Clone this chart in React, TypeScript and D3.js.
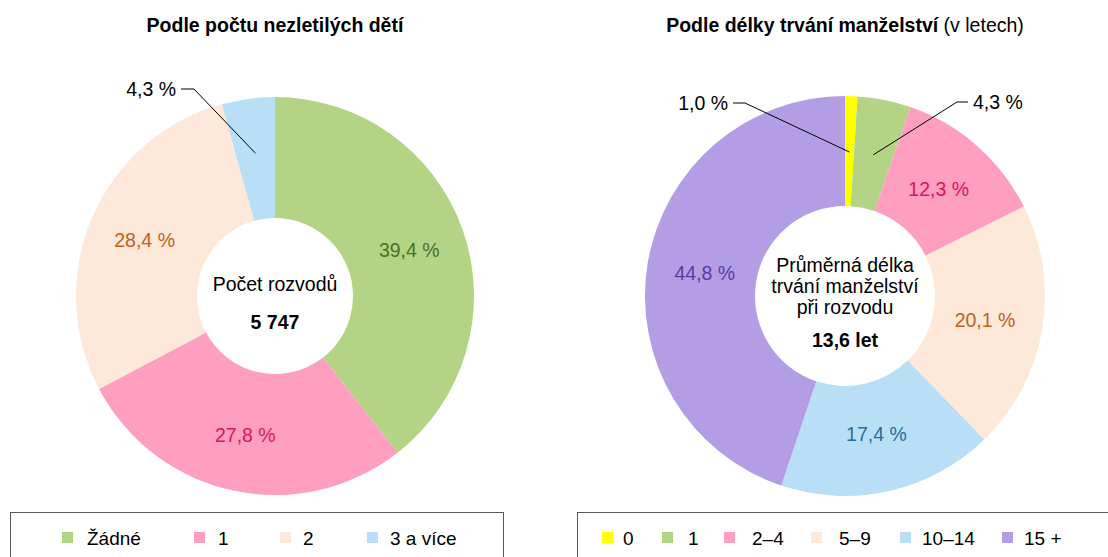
import React from "react";
import * as d3 from "d3";

const width = 1108;
const height = 557;
const font = "'Liberation Sans', Arial, sans-serif";
const fs = 19.5;

// left chart: by number of minor children
const childCategories = ["Žádné", "1", "2", "3 a více"];
const childValues = [39.4, 27.8, 28.4, 4.3];
const childColors = ["#b3d385", "#ff9fc0", "#fde8da", "#b8dff5"];
const childLabelColors = ["#4e6e26", "#e0125a", "#c0601a", "#2a6c9c"];

// right chart: by marriage duration (years)
const durationCategories = ["0", "1", "2–4", "5–9", "10–14", "15 +"];
const durationValues = [1.0, 4.3, 12.3, 20.1, 17.4, 44.8];
const durationColors = ["#ffff00", "#b3d385", "#ff9fc0", "#fde8da", "#b8dff5", "#b39ee5"];
const durationLabelColors = ["#000", "#000", "#e0125a", "#c0601a", "#2a6c9c", "#5a3c9c"];

const fmt = (v: number) => v.toFixed(1).replace(".", ",") + " %";

type Callout = { index: number; elbow: [number, number]; end: [number, number]; anchor: "start" | "end" };

const Donut = ({
  cx, cy, outer, inner, values, colors, labelColors, callouts, center,
}: {
  cx: number; cy: number; outer: number; inner: number;
  values: number[]; colors: string[]; labelColors: string[];
  callouts: Callout[]; center: React.ReactNode;
}) => {
  const pie = d3.pie<number>().sort(null).value((d) => d);
  const arcs = pie(values);
  const arc = d3.arc<d3.PieArcDatum<number>>().innerRadius(inner).outerRadius(outer);
  const labelArc = d3.arc<d3.PieArcDatum<number>>().innerRadius(142).outerRadius(142);
  const pointArc = d3.arc<d3.PieArcDatum<number>>().innerRadius(144).outerRadius(144);
  const calloutIdx = callouts.map((c) => c.index);
  return (
    <g transform={`translate(${cx},${cy})`}>
      {arcs.map((a, i) => (
        <path key={i} d={arc(a) || ""} fill={colors[i]} />
      ))}
      {arcs.map((a, i) => {
        if (calloutIdx.includes(i)) return null;
        const [x, y] = labelArc.centroid(a);
        return (
          <text key={i} x={x} y={y} dy="0.35em" textAnchor="middle" fontSize={fs} fill={labelColors[i]}>
            {fmt(values[i])}
          </text>
        );
      })}
      {callouts.map((c) => {
        const [px, py] = pointArc.centroid(arcs[c.index]);
        const ex = c.elbow[0] - cx, ey = c.elbow[1] - cy;
        const tx = c.end[0] - cx, ty = c.end[1] - cy;
        return (
          <g key={c.index}>
            <polyline points={`${px},${py} ${ex},${ey} ${tx},${ty}`} fill="none" stroke="#000" strokeWidth={1} />
            <text x={c.anchor === "end" ? tx - 5 : tx + 5} y={ty} dy="0.35em" textAnchor={c.anchor} fontSize={fs} fill="#000">
              {fmt(values[c.index])}
            </text>
          </g>
        );
      })}
      {center}
    </g>
  );
};

const Legend = ({ x, y, w, categories, colors, squareX, textX }: {
  x: number; y: number; w: number; categories: string[]; colors: string[]; squareX: number[]; textX: number[];
}) => (
  <g>
    <rect x={x + 0.5} y={y + 0.5} width={w} height={60} fill="#fff" stroke="#595959" strokeWidth={1} />
    {categories.map((c, i) => (
      <g key={c}>
        <rect x={squareX[i]} y={y + 20} width={11} height={11} fill={colors[i]} />
        <text x={textX[i]} y={y + 32.5} fontSize={19} fill="#000">{c}</text>
      </g>
    ))}
  </g>
);

export default function App() {
  return (
    <svg width={width} height={height} style={{ position: "absolute", left: 0, top: 0, fontFamily: font }}>
      <rect width={width} height={height} fill="#fff" />
      <text x={275} y={32} textAnchor="middle" fontSize={fs} fontWeight="bold">Podle počtu nezletilých dětí</text>
      <text x={845} y={32} textAnchor="middle" fontSize={fs}>
        <tspan fontWeight="bold">Podle délky trvání manželství</tspan>
        <tspan> (v letech)</tspan>
      </text>

      <Donut
        cx={275} cy={296} outer={199} inner={78}
        values={childValues} colors={childColors} labelColors={childLabelColors}
        callouts={[{ index: 3, elbow: [194, 89], end: [181, 89], anchor: "end" }]}
        center={
          <g fontSize={fs}>
            <text x={0} y={-12} dy="0.35em" textAnchor="middle">Počet rozvodů</text>
            <text x={0} y={26} dy="0.35em" textAnchor="middle" fontWeight="bold">5 747</text>
          </g>
        }
      />

      <Donut
        cx={845} cy={296} outer={200} inner={90}
        values={durationValues} colors={durationColors} labelColors={durationLabelColors}
        callouts={[
          { index: 0, elbow: [745, 103], end: [733, 103], anchor: "end" },
          { index: 1, elbow: [957, 102], end: [968, 102], anchor: "start" },
        ]}
        center={
          <g fontSize={fs}>
            <text x={0} y={-31} dy="0.35em" textAnchor="middle">Průměrná délka</text>
            <text x={0} y={-10} dy="0.35em" textAnchor="middle">trvání manželství</text>
            <text x={0} y={11} dy="0.35em" textAnchor="middle">při rozvodu</text>
            <text x={0} y={44} dy="0.35em" textAnchor="middle" fontWeight="bold">13,6 let</text>
          </g>
        }
      />

      <Legend
        x={10} y={512} w={493}
        categories={childCategories} colors={childColors}
        squareX={[62, 194, 280, 367]} textX={[87, 218, 303, 390]}
      />
      <Legend
        x={577} y={512} w={540}
        categories={durationCategories} colors={durationColors}
        squareX={[602, 662, 724, 811, 900, 1002]} textX={[623, 688, 752, 839, 922, 1024]}
      />
    </svg>
  );
}
